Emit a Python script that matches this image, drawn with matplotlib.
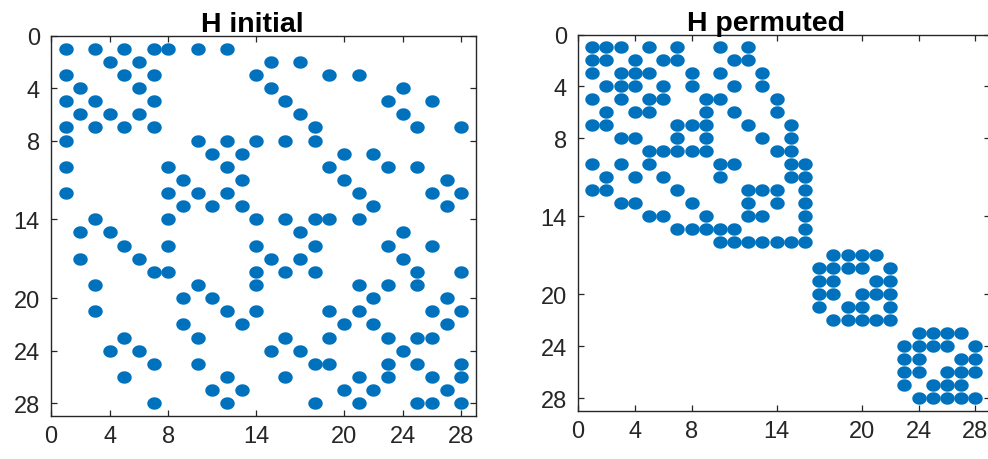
import matplotlib
matplotlib.use("Agg")
import matplotlib.pyplot as plt
import numpy as np
from matplotlib.path import Path

# Column indices of the nonzeros in each row (rows 1..28)
h_initial_rows = [
    [1, 3, 5, 7, 8, 10, 12],
    [4, 6, 15, 17],
    [1, 5, 7, 14, 19, 21],
    [2, 6, 15, 24],
    [1, 3, 7, 16, 23, 26],
    [2, 4, 6, 17, 24],
    [1, 3, 5, 7, 18, 25, 28],
    [1, 10, 12, 14, 16, 18],
    [11, 13, 20, 22],
    [1, 8, 12, 19, 23, 25],
    [9, 13, 20, 27],
    [1, 8, 10, 12, 21, 26, 28],
    [9, 11, 13, 22, 27],
    [3, 8, 14, 16, 18, 19, 21],
    [2, 4, 17, 24],
    [5, 8, 14, 18, 23, 26],
    [2, 6, 15, 17, 24],
    [7, 8, 14, 16, 18, 25, 28],
    [3, 10, 14, 21, 23, 25],
    [9, 11, 22, 27],
    [3, 12, 14, 19, 21, 26, 28],
    [9, 13, 20, 22, 27],
    [5, 10, 16, 19, 23, 25, 26],
    [4, 6, 15, 17, 24],
    [7, 10, 18, 19, 23, 25, 28],
    [5, 12, 16, 21, 23, 26, 28],
    [11, 13, 20, 22, 27],
    [7, 12, 18, 21, 25, 26, 28],
]

h_permuted_rows = [
    [1, 2, 3, 5, 7, 10, 12],
    [1, 2, 4, 6, 7, 11, 12],
    [1, 3, 4, 5, 8, 10, 13],
    [2, 3, 4, 6, 8, 11, 13],
    [1, 3, 5, 6, 9, 10, 14],
    [2, 4, 5, 9, 11, 14],
    [1, 2, 7, 8, 9, 12, 15],
    [3, 4, 7, 9, 13, 15],
    [5, 6, 7, 8, 9, 14, 15],
    [1, 3, 5, 10, 11, 15, 16],
    [2, 4, 6, 10, 15, 16],
    [1, 2, 7, 12, 13, 14, 16],
    [3, 4, 8, 12, 14, 16],
    [5, 6, 9, 12, 13, 16],
    [7, 8, 9, 10, 11, 16],
    [10, 11, 12, 13, 14, 15, 16],
    [18, 19, 20, 21],
    [17, 18, 19, 20, 22],
    [17, 18, 21, 22],
    [17, 18, 20, 21, 22],
    [17, 19, 20, 22],
    [18, 19, 20, 21, 22],
    [24, 25, 26, 27],
    [23, 24, 25, 26, 28],
    [23, 24, 27, 28],
    [23, 24, 26, 27, 28],
    [23, 25, 26, 27],
    [24, 25, 26, 27, 28],
]

titles = ["H initial", "H permuted"]
tick_values = [0, 4, 8, 14, 20, 24, 28]
n = 28

plt.rcParams['font.family'] = ['Liberation Sans', 'DejaVu Sans']

fig = plt.figure(figsize=(9.88, 4.60), dpi=100)
W, Hh = 988.0, 460.0

# axes positions in pixels: (left, top, right, bottom)
boxes = [(51, 36.5, 476, 417.3), (578, 35.5, 989.5, 412.3)]
title_x = [0.473, 0.458]

# elliptical marker (slightly wider than tall)
t = np.linspace(0, 2 * np.pi, 60)
ell = Path(np.column_stack([np.cos(t), 0.86 * np.sin(t)]), closed=True)

blue = '#0072BD'
axcol = '#262626'

for k, (rows, title, box) in enumerate(zip([h_initial_rows, h_permuted_rows], titles, boxes)):
    l, tp, r, b = box
    ax = fig.add_axes([l / W, (Hh - b) / Hh, (r - l) / W, (b - tp) / Hh])
    xs, ys = [], []
    for i, cols in enumerate(rows, start=1):
        for c in cols:
            xs.append(c)
            ys.append(i)
    ax.plot(xs, ys, linestyle='none', marker=ell, markersize=10.4,
            color=blue, markeredgewidth=0)
    ax.set_xlim(0, n + 1)
    ax.set_ylim(n + 1, 0)
    ax.set_xticks(tick_values)
    ax.set_yticks(tick_values)
    ax.tick_params(direction='in', length=4, width=0.9, colors=axcol,
                   labelsize=17, top=True, right=True)
    ax.tick_params(axis='x', pad=6)
    ax.tick_params(axis='y', pad=8)
    for lab in ax.get_xticklabels() + ax.get_yticklabels():
        lab.set_color('#262626')
    for s in ax.spines.values():
        s.set_color(axcol)
        s.set_linewidth(1.0)
    ax.set_title(title, fontsize=20.5, fontweight='bold', pad=3, color='black',
                 x=title_x[k])

fig.savefig('out.png', dpi=100)
